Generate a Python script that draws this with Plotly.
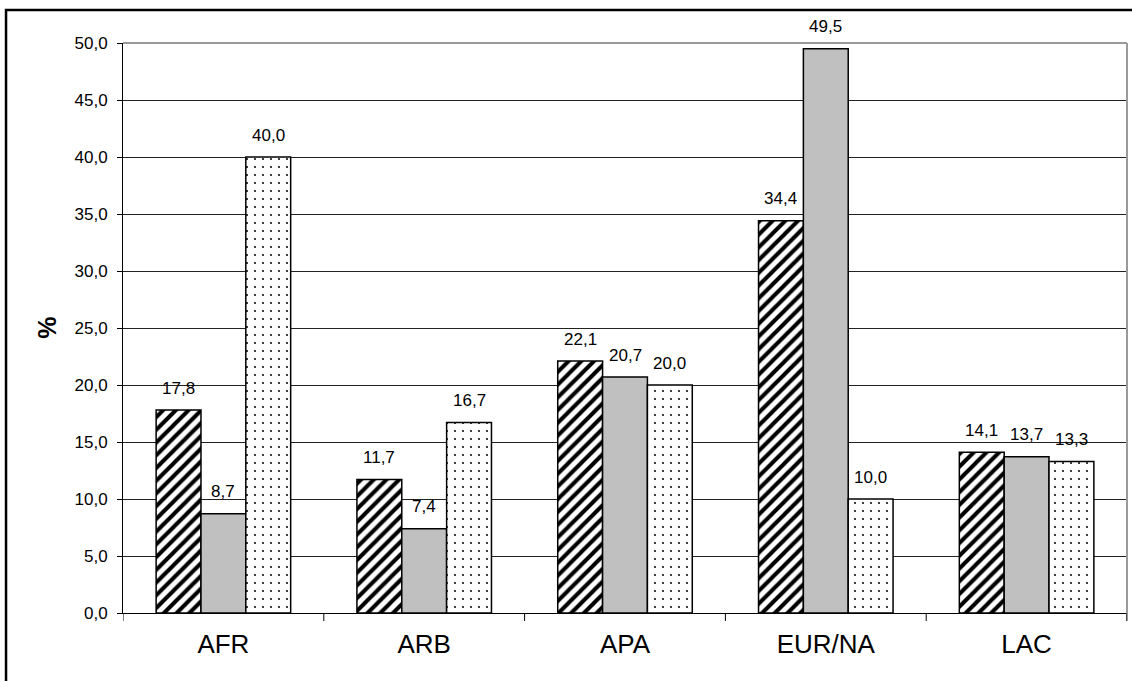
import plotly.graph_objects as go

# Regional shares (%) for three groups
regions = ["AFR", "ARB", "APA", "EUR/NA", "LAC"]
series_a = [17.8, 11.7, 22.1, 34.4, 14.1]   # hatched
series_b = [8.7, 7.4, 20.7, 49.5, 13.7]     # grey
series_c = [40.0, 16.7, 20.0, 10.0, 13.3]   # dotted

y_ticks = [0, 5, 10, 15, 20, 25, 30, 35, 40, 45, 50]

FONT = "Arial, Liberation Sans, sans-serif"
BARGAP = 0.33

styles = [
    dict(color="white", pattern=dict(shape="/", fgcolor="black", bgcolor="white",
                                     size=9, solidity=0.45, fillmode="replace")),
    dict(color="#c0c0c0"),
    dict(color="white", pattern=dict(shape=".", fgcolor="black", bgcolor="white",
                                     size=8, solidity=0.05, fillmode="replace")),
]

fig = go.Figure()
all_series = [series_a, series_b, series_c]
for vals, st in zip(all_series, styles):
    fig.add_trace(go.Bar(
        x=list(range(len(regions))), y=vals,
        marker=dict(line=dict(color="black", width=1.5), **st),
        hoverinfo="skip",
    ))

# value labels above each bar
n = len(all_series)
bw = (1 - BARGAP) / n
annotations = []
for i, vals in enumerate(all_series):
    off = (i - (n - 1) / 2) * bw
    for j, v in enumerate(vals):
        annotations.append(dict(
            x=j + off, y=v, xref="x", yref="y",
            text=f"{v:.1f}".replace(".", ","),
            showarrow=False, yanchor="middle", yshift=22,
            font=dict(family=FONT, size=17, color="black"),
        ))

# y-axis title
annotations.append(dict(
    x=-0.076, y=0.5, xref="paper", yref="paper", text="<b>%</b>",
    textangle=-90, showarrow=False, xanchor="center", yanchor="middle",
    font=dict(family=FONT, size=25, color="black"),
))

shapes = [
    # outer frame
    dict(type="rect", xref="paper", yref="paper", x0=-0.1165, y0=-0.3,
         x1=1.3, y1=1.0579, line=dict(color="black", width=2.5), layer="above"),
    # plot-area top and right edges
    dict(type="line", xref="paper", yref="paper", x0=0, x1=1, y0=1, y1=1,
         line=dict(color="#9a9a9a", width=2), layer="above"),
    dict(type="line", xref="paper", yref="paper", x0=1, x1=1, y0=1, y1=-0.014,
         line=dict(color="#9a9a9a", width=2), layer="above"),
]

fig.update_layout(
    width=1132, height=681,
    margin=dict(l=123, r=5, t=43, b=68),
    paper_bgcolor="white", plot_bgcolor="white",
    barmode="group", bargap=BARGAP, bargroupgap=0,
    showlegend=False,
    separators=",.",
    font=dict(family=FONT, color="black"),
    annotations=annotations,
    shapes=shapes,
    xaxis=dict(
        range=[-0.5, len(regions) - 0.5],
        tickmode="array", tickvals=list(range(len(regions))), ticktext=regions,
        tickfont=dict(size=26, family=FONT),
        showgrid=False, zeroline=False,
        showline=True, linecolor="black", linewidth=1,
        ticks="", ticklabelstandoff=8,
    ),
    yaxis=dict(
        range=[0, 50], tickvals=y_ticks, tickformat=".1f",
        tickfont=dict(size=17, family=FONT),
        showgrid=True, gridcolor="#222222", gridwidth=1,
        zeroline=False, showline=True, linecolor="black", linewidth=1,
        ticks="outside", ticklen=5, tickcolor="black", ticklabelstandoff=6,
    ),
)

# boundary ticks below the category axis
for k in range(len(regions) + 1):
    fig.add_shape(type="line", xref="x", yref="paper", x0=k - 0.5, x1=k - 0.5,
                  y0=0, y1=-0.014, line=dict(color="black", width=1))

fig.write_html("out.html")
